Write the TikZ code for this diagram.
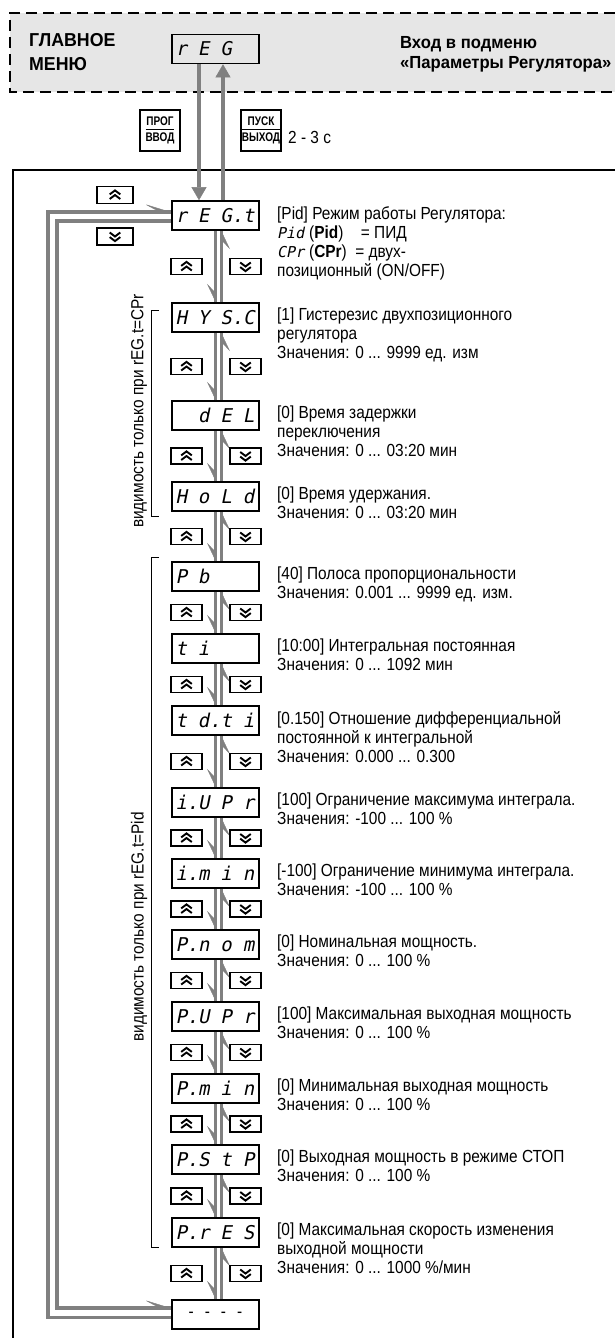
\documentclass[tikz,border=0pt]{standalone}
\usepackage{fontspec}
\setmainfont{Liberation Sans}[FakeStretch=0.88]
\newfontfamily\headfont{Liberation Sans}[FakeStretch=0.95]
\newfontfamily\keyfont{Liberation Sans}[FakeStretch=0.8]
\newfontfamily\segfont{DejaVu Sans Mono}[FakeSlant=0.2]
\usetikzlibrary{arrows.meta,calc}

\definecolor{arrgray}{RGB}{128,128,128}
\definecolor{menugray}{RGB}{230,230,230}
\setlength{\arrayrulewidth}{1.2pt}

\newcommand{\dg}[1]{\makebox[22.5pt][l]{#1}}
\newcommand{\segsmall}{\segfont\fontsize{15}{15}\selectfont}
\newcommand{\twokey}[2]{\begin{tabular}{@{}c@{}}#1\\[-1pt]\hline\rule{0pt}{11pt}#2\end{tabular}}

\tikzset{
  disp/.style={draw, line width=1.6pt, minimum width=87pt, minimum height=29pt, inner sep=0pt,
    text width=80pt, align=left, font=\segfont\fontsize{19}{19}\selectfont},
  keybox/.style={draw, line width=1.5pt, minimum width=31pt, minimum height=16pt, inner sep=0pt},
  upkey/.style={keybox, path picture={
    \foreach \dy in {-4pt,0.6pt}
      \draw[line width=1.9pt] ([shift={(-5.3pt,\dy)}]path picture bounding box.center) -- ++(5.3pt,4pt) -- ++(5.3pt,-4pt);}},
  dnkey/.style={keybox, path picture={
    \foreach \dy in {4pt,-0.6pt}
      \draw[line width=1.9pt] ([shift={(-5.3pt,\dy)}]path picture bounding box.center) -- ++(5.3pt,-4pt) -- ++(5.3pt,4pt);}},
  bigkey/.style={draw, line width=1.5pt, minimum width=40pt, minimum height=41pt, inner sep=0pt,
    font=\keyfont\bfseries\fontsize{12.5}{14}\selectfont},
  desc/.style={anchor=north west, align=left, inner sep=0pt, font=\fontsize{17.5}{19}\selectfont},
  garrow/.style={draw=arrgray, line width=4pt, -{Triangle[length=13pt,width=15pt,line width=0.5pt]}},
  gvert/.style={draw=arrgray, line width=3.5pt, postaction={draw=arrgray, line width=0.4pt,
    -{Stealth[harpoon,swap,length=18pt,width=17pt,inset=9pt]}}},
  gloop/.style={draw=arrgray, line width=3.5pt, postaction={draw=arrgray, line width=0.4pt,
    -{Stealth[harpoon,length=26pt,width=16pt,inset=15pt]}}},
}

\begin{document}
\begin{tikzpicture}[x=1pt, y=-1pt]
\useasboundingbox (0,0) rectangle (615,1338);
\fill[menugray] (10,13) rectangle (615,92);
\draw[line width=1.4pt, dash pattern=on 11pt off 6pt] (615,13) -- (10,13) -- (10,92) -- (615,92);
\node[anchor=west, align=left, inner sep=0pt, font=\headfont\bfseries\fontsize{18.7}{24}\selectfont] (mainmenu) at (29,52) {ГЛАВНОЕ\\МЕНЮ};
\node[anchor=west, align=left, inner sep=0pt, font=\headfont\bfseries\fontsize{17.5}{20}\selectfont] (entry) at (400,54) {Вход в подменю\\«Параметры Регулятора»};
\node[disp] (reg) at (215.5,49) {\dg{r}\dg{E}G};
\node[bigkey] (prog) at (160,130.5) {\twokey{ПРОГ}{ВВОД}};
\node[bigkey] (pusk) at (261,130.5) {\twokey{ПУСК}{ВЫХОД}};
\node[anchor=west, inner sep=0pt, font=\fontsize{17.5}{17.5}\selectfont] (hold23) at (288,137) {2 - 3 с};

\draw[line width=1.5pt] (13,1338) -- (13,170) -- (615,170);

\node[disp] (regt) at (215.5,215.5) {\dg{r}\dg{E}\dg{G.}t};
\node[disp] (hys) at (215.5,317.5) {\dg{H}\dg{Y}\dg{S.}C};
\node[disp] (del) at (215.5,415.5) {\dg{}\dg{d}\dg{E}L};
\node[disp] (hold) at (215.5,496.5) {\dg{H}\dg{o}\dg{L}d};
\node[disp] (pb) at (215.5,576.5) {\dg{P}b};
\node[disp] (ti) at (215.5,648.5) {\dg{t}i};
\node[disp] (tdti) at (215.5,720.5) {\dg{t}\dg{d.}\dg{t}i};
\node[disp] (iupr) at (215.5,802.5) {\dg{i.}\dg{U}\dg{P}r};
\node[disp] (imin) at (215.5,873.5) {\dg{i.}\dg{m}\dg{i}n};
\node[disp] (pnom) at (215.5,944.5) {\dg{P.}\dg{n}\dg{o}m};
\node[disp] (pupr) at (215.5,1016.5) {\dg{P.}\dg{U}\dg{P}r};
\node[disp] (pmin) at (215.5,1088.5) {\dg{P.}\dg{m}\dg{i}n};
\node[disp] (pstp) at (215.5,1159.5) {\dg{P.}\dg{S}\dg{t}P};
\node[disp] (pres) at (215.5,1232.5) {\dg{P.}\dg{r}\dg{E}S};
\node[disp, align=center, font=\fontsize{17.5}{17.5}\selectfont] (dsh) at (215.5,1314.5) {-\hspace{11pt}-\hspace{11pt}-\hspace{11pt}-};

\draw[garrow] ([xshift=-16.5pt]reg.south) -- ([xshift=-16.5pt]regt.north);
\draw[garrow] ([xshift=7.5pt]regt.north) -- ([xshift=7.5pt]reg.south);

\foreach \a/\b in {regt/hys,hys/del,del/hold,hold/pb,pb/ti,ti/tdti,tdti/iupr,iupr/imin,imin/pnom,pnom/pupr,pupr/pmin,pmin/pstp,pstp/pres,pres/dsh}{
  \draw[gvert] (\a.south) -- (\b.north);
  \draw[gvert] ([xshift=6pt]\b.north) -- ([xshift=6pt]\a.south);
  \node[upkey] (ku-\a) at ($(\a.south)!0.5!(\b.north)+(-29pt,0)$) {};
  \node[dnkey] (kd-\a) at ($(\a.south)!0.5!(\b.north)+(30pt,0)$) {};
}

\draw[gloop] ([yshift=-3pt]dsh.west) -| (48,212) -- ([yshift=3.5pt]regt.west);
\draw[gloop] ([yshift=-5.5pt]regt.west) -| (57,1308) -- ([yshift=6.5pt]dsh.west);
\node[upkey, minimum width=36pt, minimum height=17pt] (kloopu) at (115,195) {};
\node[dnkey, minimum width=36pt, minimum height=17pt] (kloopd) at (115,236.5) {};

\draw[line width=0.9pt] (159,310) -- (151,310) -- (151,516) -- (159,516);
\node[rotate=90, inner sep=0pt, font=\fontsize{17.5}{17.5}\selectfont] (viscpr) at (139,411) {видимость только при rEG.t=CPr};
\draw[line width=0.9pt] (159,557) -- (151,557) -- (151,1247) -- (159,1247);
\node[rotate=90, inner sep=0pt, font=\fontsize{17.5}{17.5}\selectfont] (vispid) at (139,927) {видимость только при rEG.t=Pid};

\node[desc] (dregt) at (277,206) {[Pid] Режим работы Регулятора:\\
  \makebox[32pt][l]{\segsmall Pid}(\textbf{Pid})\quad= ПИД\\
  \makebox[32pt][l]{\segsmall CPr}(\textbf{CPr})\ \ = двух-\\
  позиционный (ON/OFF)};
\node[desc] (dhys) at (277,308) {[1] Гистерезис двухпозиционного\\регулятора\\Значения: 0 ... 9999 ед. изм};
\node[desc] (ddel) at (277,406) {[0] Время задержки\\переключения\\Значения: 0 ... 03:20 мин};
\node[desc] (dhold) at (277,487) {[0] Время удержания.\\Значения: 0 ... 03:20 мин};
\node[desc] (dpb) at (277,567) {[40] Полоса пропорциональности\\Значения: 0.001 ... 9999 ед. изм.};
\node[desc] (dti) at (277,639) {[10:00] Интегральная постоянная\\Значения: 0 ... 1092 мин};
\node[desc] (dtdti) at (277,711) {[0.150] Отношение дифференциальной\\постоянной к интегральной\\Значения: 0.000 ... 0.300};
\node[desc] (diupr) at (277,793) {[100] Ограничение максимума интеграла.\\Значения: -100 ... 100 \%};
\node[desc] (dimin) at (277,864) {[-100] Ограничение минимума интеграла.\\Значения: -100 ... 100 \%};
\node[desc] (dpnom) at (277,935) {[0] Номинальная мощность.\\Значения: 0 ... 100 \%};
\node[desc] (dpupr) at (277,1007) {[100] Максимальная выходная мощность\\Значения: 0 ... 100 \%};
\node[desc] (dpmin) at (277,1079) {[0] Минимальная выходная мощность\\Значения: 0 ... 100 \%};
\node[desc] (dpstp) at (277,1150) {[0] Выходная мощность в режиме СТОП\\Значения: 0 ... 100 \%};
\node[desc] (dpres) at (277,1223) {[0] Максимальная скорость изменения\\выходной мощности\\Значения: 0 ... 1000 \%/мин};
\end{tikzpicture}
\end{document}
